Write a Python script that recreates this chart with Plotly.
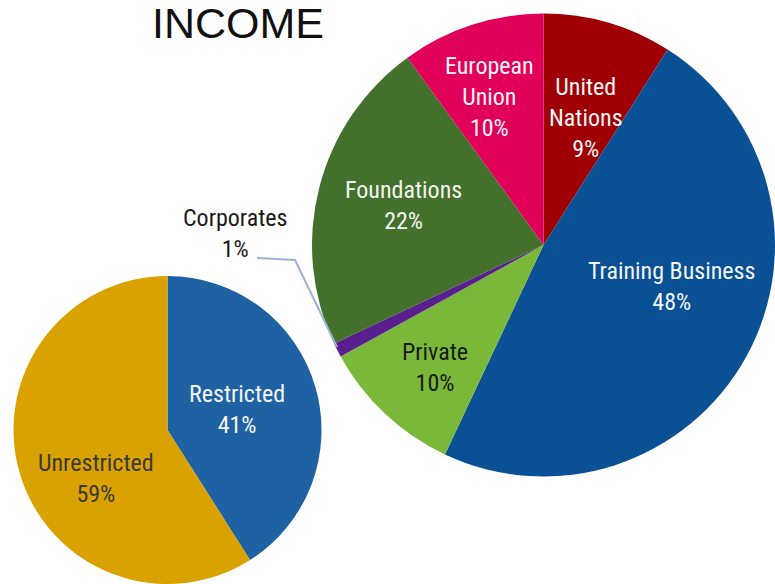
import plotly.graph_objects as go

# Income (large pie)
income_labels = ["United Nations", "Training Business", "Private", "Corporates", "Foundations", "European Union"]
income_label_lines = ["United<br>Nations", "Training Business", "Private", "Corporates", "Foundations", "European<br>Union"]
income_values = [9, 48, 10, 1, 22, 10]

# Restricted / Unrestricted (small pie)
fund_labels = ["Restricted", "Unrestricted"]
fund_values = [41, 59]

# ---- styling / placement (kept separate from data) ----
income_colors = ["#9E0004", "#0A5094", "#7AB83A", "#5A1F8E", "#43702A", "#E0005A"]
income_textcolors = ["#F4F4F4", "#F4F4F4", "#1A1A1A", "#1A1A1A", "#F4F4F4", "#F4F4F4"]
income_label_pos = [(586, 118), (671, 286), (435, 367), (235, 234), (403, 206), (490, 97)]
fund_colors = ["#1F62A4", "#DAA200"]
fund_textcolors = ["#F4F4F4", "#3A3A3A"]
fund_label_pos = [(237, 409), (96, 478)]

W, H = 775, 584
FONT = "Liberation Sans Narrow, Arial Narrow, Roboto Condensed, sans-serif"


def px(x, y):
    return x / W, 1 - y / H


fig = go.Figure()
fig.add_trace(go.Pie(
    labels=income_labels, values=income_values,
    sort=False, direction="clockwise", rotation=0,
    marker=dict(colors=income_colors, line=dict(width=0)),
    textinfo="none",
    domain=dict(x=[0.4026, 1.0], y=[0.1815, 0.9795]),
    showlegend=False, hoverinfo="label+percent",
))
fig.add_trace(go.Pie(
    labels=fund_labels, values=fund_values,
    sort=False, direction="clockwise", rotation=0,
    marker=dict(colors=fund_colors, line=dict(width=0)),
    textinfo="none",
    domain=dict(x=[0.0168, 0.4155], y=[0.0, 0.5274]),
    showlegend=False, hoverinfo="label+percent",
))

tot_i = sum(income_values)
for lab, v, c, (x, y) in zip(income_label_lines, income_values, income_textcolors, income_label_pos):
    ax, ay = px(x, y)
    fig.add_annotation(x=ax, y=ay, xref="paper", yref="paper", xanchor="center", yanchor="middle",
                       text=f"{lab}<br>{round(100 * v / tot_i)}%", showarrow=False,
                       font=dict(family=FONT, size=24, color=c))

tot_f = sum(fund_values)
for lab, v, c, (x, y) in zip(fund_labels, fund_values, fund_textcolors, fund_label_pos):
    ax, ay = px(x, y)
    fig.add_annotation(x=ax, y=ay, xref="paper", yref="paper", xanchor="center", yanchor="middle",
                       text=f"{lab}<br>{round(100 * v / tot_f)}%", showarrow=False,
                       font=dict(family=FONT, size=24, color=c))

# leader line for Corporates
p1, p2, p3 = px(257, 258), px(295, 260), px(337, 347)
fig.add_shape(type="path", xref="paper", yref="paper",
              path=f"M {p1[0]},{p1[1]} L {p2[0]},{p2[1]} L {p3[0]},{p3[1]}",
              line=dict(color="#9DB0D6", width=2))

tx, ty = px(238, 23)
fig.add_annotation(x=tx, y=ty, xref="paper", yref="paper", xanchor="center", yanchor="middle",
                   text="INCOME", showarrow=False,
                   font=dict(family="Liberation Sans, Arial, sans-serif", size=43, color="#111111"))

fig.update_layout(width=W, height=H, margin=dict(l=0, r=0, t=0, b=0),
                  paper_bgcolor="white", plot_bgcolor="white")
fig.write_html("out.html", config={"displayModeBar": False},
               post_script="document.body.style.margin='0';document.body.style.overflow='hidden';")
